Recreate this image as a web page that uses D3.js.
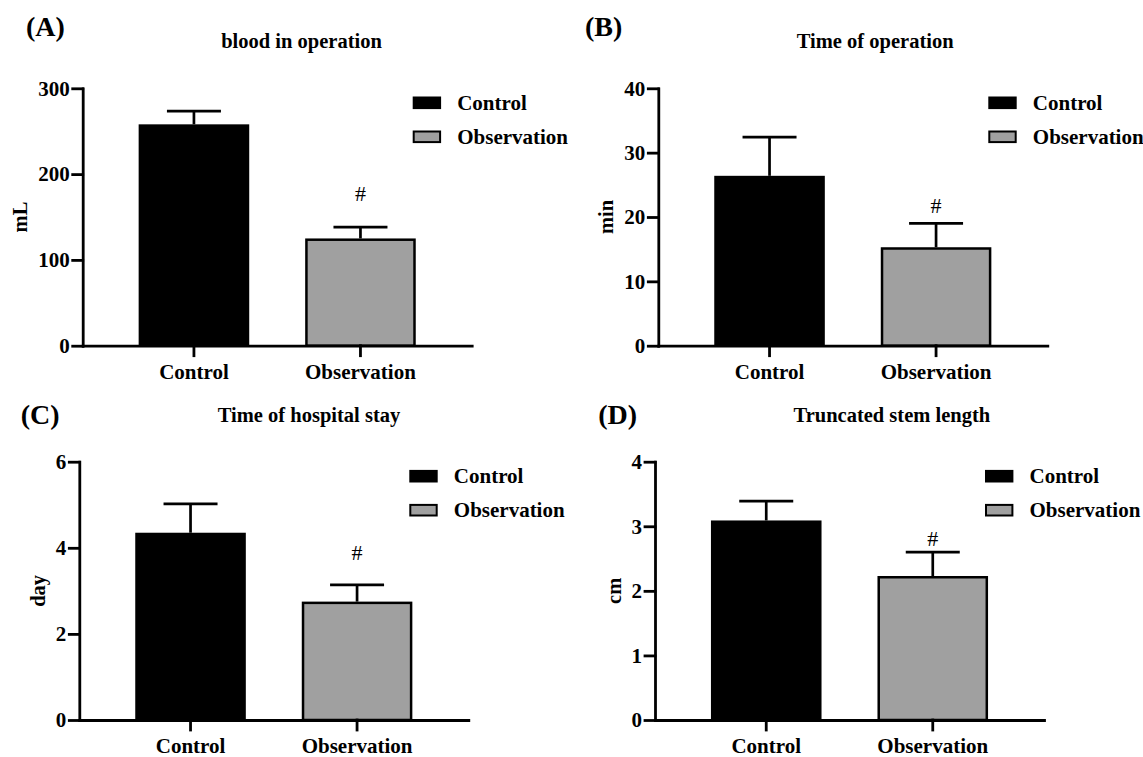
<!DOCTYPE html>
<html>
<head>
<meta charset="utf-8">
<script src="https://cdn.jsdelivr.net/npm/d3@7"></script>
<style>
  body { margin: 0; background: #fff; }
  svg text { font-family: "Liberation Serif", "Times New Roman", serif; fill: #000; }
</style>
</head>
<body>
<div id="chart"></div>
<script>
// values
var tags = ["(A)", "(B)", "(C)", "(D)"];
var titles = ["blood in operation", "Time of operation", "Time of hospital stay", "Truncated stem length"];
var units = ["mL", "min", "day", "cm"];
var groups = ["Control", "Observation"];
var controlMean = [258, 26.4, 4.35, 3.09];
var controlSD = [15.5, 6.0, 0.67, 0.30];
var obsMean = [125, 15.3, 2.75, 2.23];
var obsSD = [13.3, 3.7, 0.39, 0.37];
var yMax = [300, 40, 6, 4];
var yStep = [100, 10, 2, 1];
var sigMark = ["#", "#", "#", "#"];
var sigMarkY = [177, 21.8, 3.9, 2.81];   // where the # sits, in data units

var W = 1143, H = 757;
var grey = "#a0a0a0";
var serif = "'Liberation Serif', 'Times New Roman', serif";

// panel geometry
var axisX = [82.7, 658.3, 79.3, 655];
var plotW = 389;
var topY = [88.3, 88.3, 461.7, 461.7];
var botY = [345.7, 345.7, 720, 720];
var tagX = [26, 585, 20.7, 598.3];
var tagY = [36, 36, 424, 424];
var titleY = [48, 48, 422, 422];

var svg = d3.select("#chart").append("svg")
    .attr("width", W)
    .attr("height", H)
    .style("font-family", serif);

svg.append("rect").attr("width", W).attr("height", H).attr("fill", "#fff");

tags.forEach(function (tag, i) {
    var g = svg.append("g");

    var x = d3.scaleBand()
        .domain(groups)
        .range([axisX[i], axisX[i] + plotW])
        .paddingInner(0.336)
        .paddingOuter(0.336);

    var y = d3.scaleLinear()
        .domain([0, yMax[i]])
        .range([botY[i], topY[i]]);

    var rows = [
        { name: groups[0], mean: controlMean[i], sd: controlSD[i], fill: "#000" },
        { name: groups[1], mean: obsMean[i], sd: obsSD[i], fill: grey }
    ];

    // error bars (upper only) behind the bars
    var eb = g.selectAll(".eb").data(rows).enter().append("g");
    eb.append("line")
        .attr("x1", function (d) { return x(d.name) + x.bandwidth() / 2; })
        .attr("x2", function (d) { return x(d.name) + x.bandwidth() / 2; })
        .attr("y1", function (d) { return y(d.mean); })
        .attr("y2", function (d) { return y(d.mean + d.sd); })
        .attr("stroke", "#000").attr("stroke-width", 2.7);
    eb.append("line")
        .attr("x1", function (d) { return x(d.name) + x.bandwidth() / 2 - 27; })
        .attr("x2", function (d) { return x(d.name) + x.bandwidth() / 2 + 27; })
        .attr("y1", function (d) { return y(d.mean + d.sd); })
        .attr("y2", function (d) { return y(d.mean + d.sd); })
        .attr("stroke", "#000").attr("stroke-width", 2.7);

    g.selectAll(".bar").data(rows).enter().append("rect")
        .attr("x", function (d) { return x(d.name) + 1.25; })
        .attr("width", x.bandwidth() - 2.5)
        .attr("y", function (d) { return y(d.mean) + 1.25; })
        .attr("height", function (d) { return y(0) - y(d.mean) - 1.25; })
        .attr("fill", function (d) { return d.fill; })
        .attr("stroke", "#000")
        .attr("stroke-width", 2.5);

    // significance mark
    g.append("text")
        .attr("x", x(groups[1]) + x.bandwidth() / 2)
        .attr("y", y(sigMarkY[i]))
        .attr("text-anchor", "middle")
        .attr("dominant-baseline", "central")
        .style("font-size", "22px")
        .text(sigMark[i]);

    // axes
    var yAxis = d3.axisLeft(y)
        .tickValues(d3.range(0, yMax[i] + yStep[i] / 2, yStep[i]))
        .tickFormat(d3.format("d"))
        .tickSize(10)
        .tickSizeOuter(0)
        .tickPadding(3);
    var ya = g.append("g")
        .attr("transform", "translate(" + axisX[i] + ",0)")
        .call(yAxis);

    var xAxis = d3.axisBottom(x)
        .tickSize(10)
        .tickSizeOuter(0)
        .tickPadding(8);
    var xa = g.append("g")
        .attr("transform", "translate(0," + botY[i] + ")")
        .call(xAxis);

    [ya, xa].forEach(function (a) {
        a.attr("font-family", serif);
        a.selectAll("path, line").attr("stroke", "#000").attr("stroke-width", 2.8).attr("stroke-linecap", "square");
        a.selectAll("text")
            .style("font-size", "21px")
            .style("font-weight", "bold")
            .style("font-family", serif);
    });

    // y label placed left of the widest tick label
    var minLeft = d3.min(ya.selectAll("text").nodes(), function (n) {
        return n.getBBox().x;
    }) + axisX[i];
    g.append("text")
        .attr("transform", "translate(" + (minLeft - 18) + "," + ((topY[i] + botY[i]) / 2) + ") rotate(-90)")
        .attr("text-anchor", "middle")
        .attr("dominant-baseline", "central")
        .style("font-size", "20.5px")
        .style("font-weight", "bold")
        .text(units[i]);

    // title + tag
    g.append("text")
        .attr("x", axisX[i] + 138.5)
        .attr("y", titleY[i])
        .style("font-size", "20.5px")
        .style("font-weight", "bold")
        .text(titles[i]);
    g.append("text")
        .attr("x", tagX[i])
        .attr("y", tagY[i])
        .style("font-size", "28px")
        .style("font-weight", "bold")
        .text(tag);

    // legend
    var lg = g.selectAll(".lg").data(rows).enter().append("g")
        .attr("transform", function (d, j) {
            return "translate(" + (axisX[i] + 330) + "," + (topY[i] + 14.5 + j * 34) + ")";
        });
    lg.append("rect")
        .attr("x", 1).attr("y", -5.3)
        .attr("width", 26.4).attr("height", 10.6)
        .attr("fill", function (d) { return d.fill; })
        .attr("stroke", "#000").attr("stroke-width", 2);
    lg.append("text")
        .attr("x", 44.5)
        .attr("dominant-baseline", "central")
        .style("font-size", "21px")
        .style("font-weight", "bold")
        .text(function (d) { return d.name; });
});
</script>
</body>
</html>
